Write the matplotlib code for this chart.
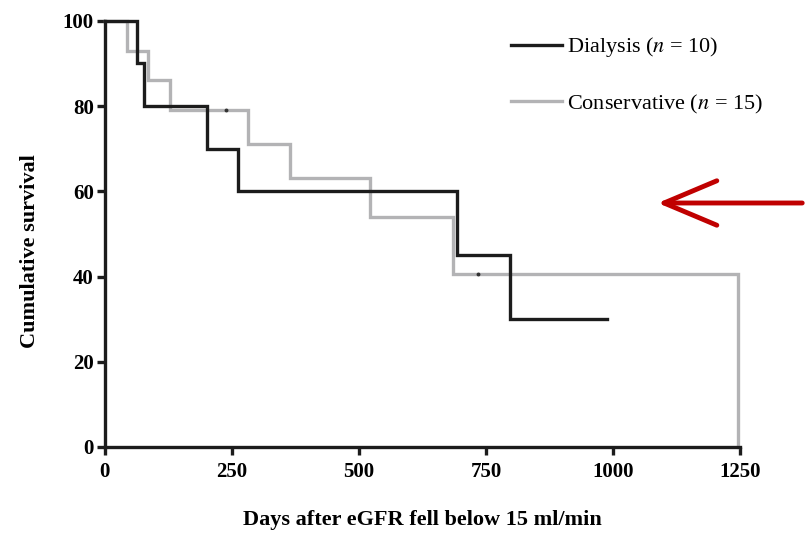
import numpy as np
import matplotlib.pyplot as plt
from matplotlib.patches import FancyArrowPatch

# Kaplan-Meier step data
dial_days = [0, 63, 77, 200, 262, 693, 797, 988]
dial_surv = [100, 90, 80, 70, 60, 45, 30, 30]

cons_days = [0, 43, 85, 128, 282, 364, 522, 685, 1246]
cons_surv = [100, 93, 86, 79, 71, 63, 54, 40.5, 0]

censor_days = [238, 734]
censor_surv = [79, 40.5]

xticks = [0, 250, 500, 750, 1000, 1250]
yticks = [0, 20, 40, 60, 80, 100]

plt.rcParams['font.family'] = ['Liberation Serif', 'DejaVu Serif']
plt.rcParams['mathtext.fontset'] = 'stix'

fig = plt.figure(figsize=(8.07, 5.34), dpi=100)
ax = fig.add_axes([0.130, 0.163, 0.787, 0.798])

ax.plot(cons_days, cons_surv, drawstyle='steps-post', color='#b3b3b5', lw=2.4,
        label='Conservative ($n$ = 15)', clip_on=False, solid_joinstyle='miter')
ax.plot(dial_days, dial_surv, drawstyle='steps-post', color='#1c1c1c', lw=2.4,
        label='Dialysis ($n$ = 10)', clip_on=False, solid_joinstyle='miter')
ax.plot(censor_days, censor_surv, 'o', color='#333333', ms=1.8)

ax.set_xlim(0, 1250)
ax.set_ylim(0, 100)
ax.set_xticks(xticks)
ax.set_yticks(yticks)
for s in ['top', 'right']:
    ax.spines[s].set_visible(False)
for s in ['left', 'bottom']:
    ax.spines[s].set_linewidth(2.4)
    ax.spines[s].set_color('#1c1c1c')
ax.tick_params(width=2.4, length=6, direction='out', labelsize=15, color='#1c1c1c')
for lab in ax.get_xticklabels() + ax.get_yticklabels():
    lab.set_fontweight('bold')
ax.tick_params(axis='x', pad=5)
ax.tick_params(axis='y', pad=2)

ax.set_xlabel('Days after eGFR fell below 15 ml/min', fontsize=16, fontweight='bold', labelpad=20)
ax.set_ylabel('Cumulative survival', fontsize=16, fontweight='bold')
ax.yaxis.set_label_coords(-0.102, 0.46)

h, l = ax.get_legend_handles_labels()
ax.legend(h[::-1], l[::-1], loc='upper left', bbox_to_anchor=(0.608, 1.013), frameon=False,
          fontsize=16, handlelength=2.3, labelspacing=1.5, handletextpad=0.2)

# red arrow annotation
fig.patches.append(FancyArrowPatch(
    (805 / 807, 1 - 203 / 534), (655 / 807, 1 - 203 / 534), transform=fig.transFigure,
    arrowstyle='->, head_length=1.9, head_width=0.8', mutation_scale=20,
    color='#c00000', lw=3.5))

fig.savefig('out.png', dpi=100)
